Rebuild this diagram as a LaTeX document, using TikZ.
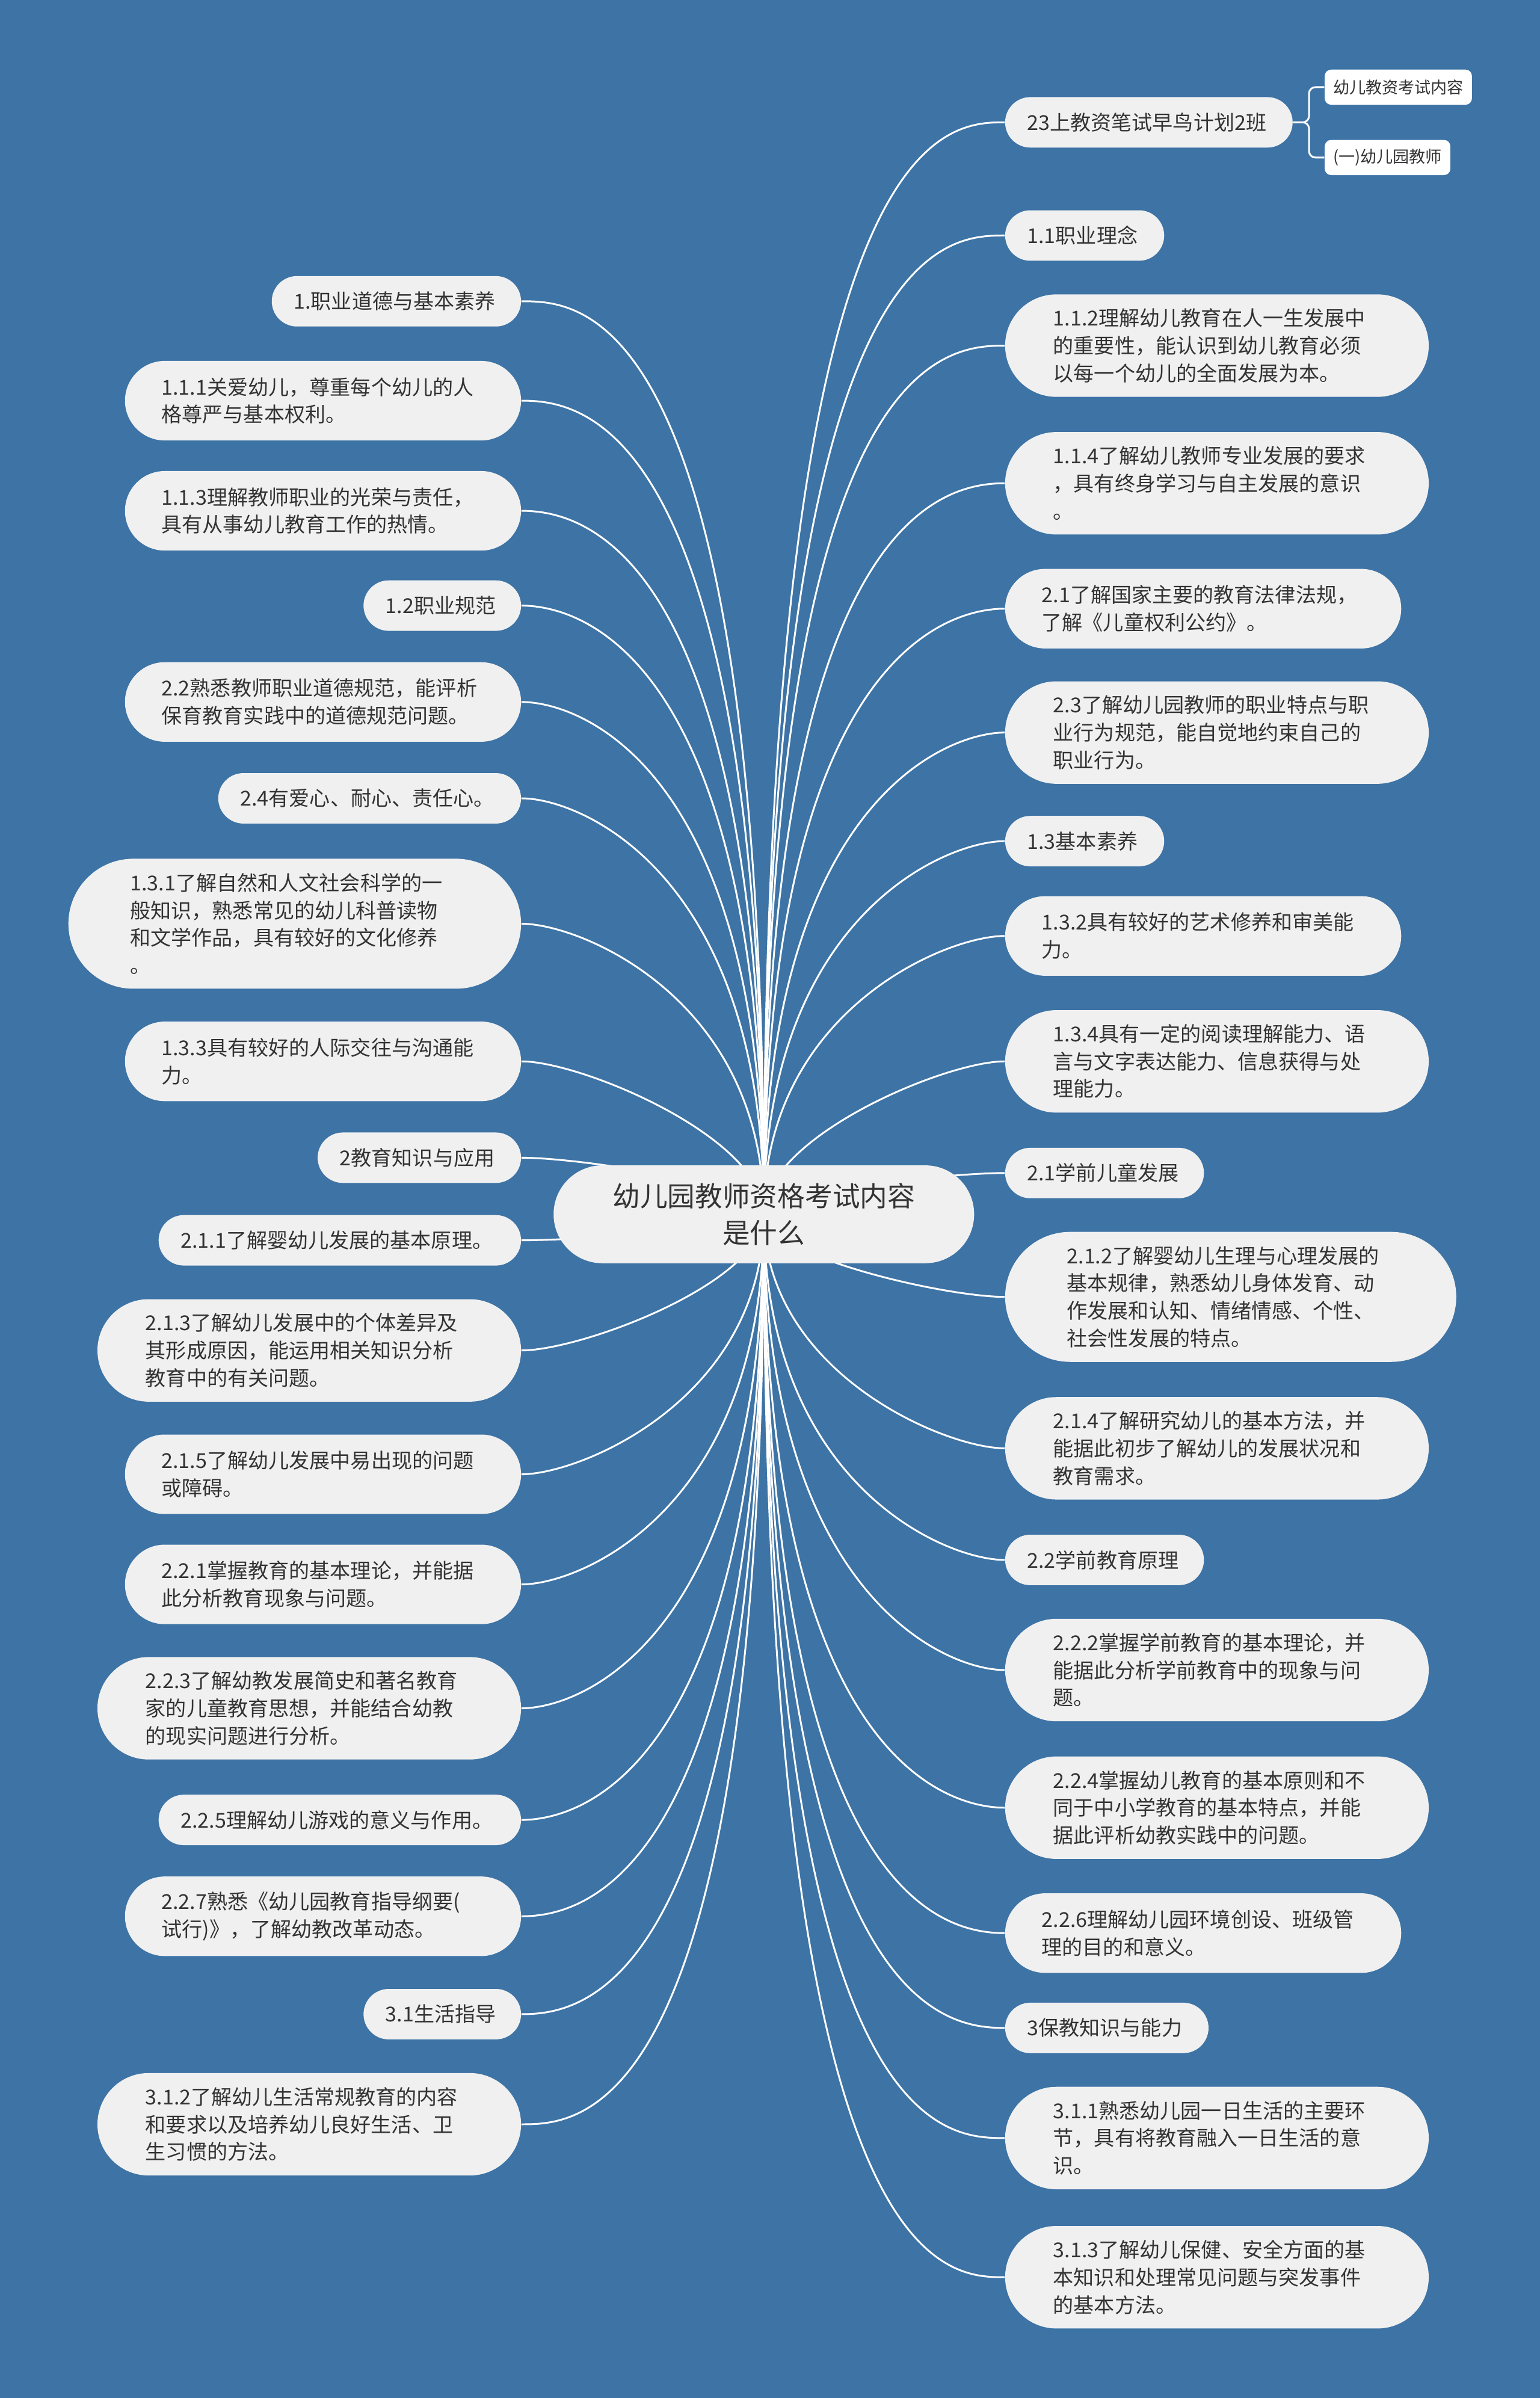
\documentclass[tikz,border=0pt]{standalone}
\usepackage{fontspec}
\newfontfamily\cjk{Noto Sans CJK SC}
\usetikzlibrary{calc}
\pgfdeclarelayer{bg}
\pgfsetlayers{bg,main}
\definecolor{bgblue}{HTML}{3D73A5}
\definecolor{nodefill}{HTML}{F0F0F0}
\definecolor{txt}{HTML}{333333}
\tikzset{
  pill/.style={fill=nodefill, text=txt, inner ysep=0pt, align=left, font=\cjk\fontsize{9.7}{13}\selectfont},
  rootbox/.style={fill=nodefill, text=txt, align=center, inner sep=0pt, font=\cjk\fontsize{13}{17.4}\selectfont},
  smallbox/.style={fill=white, text=txt, rounded corners=3pt, inner xsep=4pt, inner ysep=0pt, minimum height=16.6pt, anchor=west, font=\cjk\fontsize{7.7}{9}\selectfont},
  conn/.style={draw=white, line width=0.85pt},
}
% #1 name, #2 anchor, #3 x, #4 y, #5 width, #6 height, #7 text
\newcommand\mmnode[7]{%
  \pgfmathsetlengthmacro\mmtw{(#5-#6)*0.7233pt+3pt}%
  \pgfmathsetlengthmacro\mmh{#6*0.7233pt}%
  \pgfmathsetlengthmacro\mmr{#6*0.36165pt}%
  \pgfmathsetlengthmacro\mmx{#6*0.36165pt-1.5pt}%
  \node[pill, anchor=#2, text width=\mmtw, minimum height=\mmh, inner xsep=\mmx, rounded corners=\mmr] (#1) at (#3,#4) {#7};%
}
% #1 node name, #2 anchor
\newcommand\mmlink[2]{%
  \draw[conn] let \p1=(root.center), \p2=(#1.#2),
     \n1={abs(\y2-\y1)},
     \n2={min(0.5*\n1, 36.2, max(0, 36.2*(434-\n1)/217))},
     \n3={(\y1-\y2)/\n1},
     \n4={(\x1-\x2)/abs(\x1-\x2)} in
    (\p1) .. controls (\x1,{\y2+\n3*\n2}) and ({\x2+\n4*28.5},\y2) .. (\p2);%
}
\begin{document}
\begin{tikzpicture}[x=0.7233pt, y=-0.7233pt]
\useasboundingbox (0,0) rectangle (1007,1568);

\node[rootbox, minimum width=198.9pt, minimum height=46.3pt, rounded corners=23.1pt] (root) at (499.5,794) {幼儿园教师资格考试内容\\是什么};

% right side
\mmnode{T}{west}{657}{80}{188}{33}{23上教资笔试早鸟计划2班}
\mmnode{R1}{west}{657}{154}{104}{33}{1.1职业理念}
\mmnode{R2}{west}{657}{226}{277}{67}{1.1.2理解幼儿教育在人一生发展中\\的重要性，能认识到幼儿教育必须\\以每一个幼儿的全面发展为本。}
\mmnode{R3}{west}{657}{316}{277}{67}{1.1.4了解幼儿教师专业发展的要求\\，具有终身学习与自主发展的意识\\。}
\mmnode{R4}{west}{657}{398}{259}{52}{2.1了解国家主要的教育法律法规，\\了解《儿童权利公约》。}
\mmnode{R5}{west}{657}{479}{277}{67}{2.3了解幼儿园教师的职业特点与职\\业行为规范，能自觉地约束自己的\\职业行为。}
\mmnode{R6}{west}{657}{550}{104}{33}{1.3基本素养}
\mmnode{R7}{west}{657}{612}{259}{52}{1.3.2具有较好的艺术修养和审美能\\力。}
\mmnode{R8}{west}{657}{694}{277}{67}{1.3.4具有一定的阅读理解能力、语\\言与文字表达能力、信息获得与处\\理能力。}
\mmnode{R9}{west}{657}{767}{130}{33}{2.1学前儿童发展}
\mmnode{R10}{west}{657}{848}{295}{85}{2.1.2了解婴幼儿生理与心理发展的\\基本规律，熟悉幼儿身体发育、动\\作发展和认知、情绪情感、个性、\\社会性发展的特点。}
\mmnode{R11}{west}{657}{947}{277}{67}{2.1.4了解研究幼儿的基本方法，并\\能据此初步了解幼儿的发展状况和\\教育需求。}
\mmnode{R12}{west}{657}{1020}{130}{33}{2.2学前教育原理}
\mmnode{R13}{west}{657}{1092}{277}{67}{2.2.2掌握学前教育的基本理论，并\\能据此分析学前教育中的现象与问\\题。}
\mmnode{R14}{west}{657}{1182}{277}{67}{2.2.4掌握幼儿教育的基本原则和不\\同于中小学教育的基本特点，并能\\据此评析幼教实践中的问题。}
\mmnode{R15}{west}{657}{1264}{259}{52}{2.2.6理解幼儿园环境创设、班级管\\理的目的和意义。}
\mmnode{R16}{west}{657}{1326}{133}{33}{3保教知识与能力}
\mmnode{R17}{west}{657}{1398}{277}{67}{3.1.1熟悉幼儿园一日生活的主要环\\节，具有将教育融入一日生活的意\\识。}
\mmnode{R18}{west}{657}{1489}{277}{67}{3.1.3了解幼儿保健、安全方面的基\\本知识和处理常见问题与突发事件\\的基本方法。}

% left side
\mmnode{L1}{east}{341}{197}{163}{33}{1.职业道德与基本素养}
\mmnode{L2}{east}{341}{262}{259}{52}{1.1.1关爱幼儿，尊重每个幼儿的人\\格尊严与基本权利。}
\mmnode{L3}{east}{341}{334}{259}{52}{1.1.3理解教师职业的光荣与责任，\\具有从事幼儿教育工作的热情。}
\mmnode{L4}{east}{341}{396}{103}{33}{1.2职业规范}
\mmnode{L5}{east}{341}{459}{259}{52}{2.2熟悉教师职业道德规范，能评析\\保育教育实践中的道德规范问题。}
\mmnode{L6}{east}{341}{522}{198}{33}{2.4有爱心、耐心、责任心。}
\mmnode{L7}{east}{341}{604}{296}{85}{1.3.1了解自然和人文社会科学的一\\般知识，熟悉常见的幼儿科普读物\\和文学作品，具有较好的文化修养\\。}
\mmnode{L8}{east}{341}{694}{259}{52}{1.3.3具有较好的人际交往与沟通能\\力。}
\mmnode{L9}{east}{341}{757}{133}{33}{2教育知识与应用}
\mmnode{L10}{east}{341}{811}{237}{33}{2.1.1了解婴幼儿发展的基本原理。}
\mmnode{L11}{east}{341}{883}{277}{67}{2.1.3了解幼儿发展中的个体差异及\\其形成原因，能运用相关知识分析\\教育中的有关问题。}
\mmnode{L12}{east}{341}{964}{259}{52}{2.1.5了解幼儿发展中易出现的问题\\或障碍。}
\mmnode{L13}{east}{341}{1036}{259}{52}{2.2.1掌握教育的基本理论，并能据\\此分析教育现象与问题。}
\mmnode{L14}{east}{341}{1117}{277}{67}{2.2.3了解幼教发展简史和著名教育\\家的儿童教育思想，并能结合幼教\\的现实问题进行分析。}
\mmnode{L15}{east}{341}{1190}{237}{33}{2.2.5理解幼儿游戏的意义与作用。}
\mmnode{L16}{east}{341}{1253}{259}{52}{2.2.7熟悉《幼儿园教育指导纲要(\\试行)》，了解幼教改革动态。}
\mmnode{L17}{east}{341}{1317}{103}{33}{3.1生活指导}
\mmnode{L18}{east}{341}{1389}{277}{67}{3.1.2了解幼儿生活常规教育的内容\\和要求以及培养幼儿良好生活、卫\\生习惯的方法。}

% small nodes
\node[smallbox] (S1) at (866,57) {幼儿教资考试内容};
\node[smallbox] (S2) at (866,103) {(一)幼儿园教师};
\coordinate (J) at (856,80);

\begin{pgfonlayer}{bg}
\fill[bgblue] (0,0) rectangle (1007,1568);
\mmlink{T}{west}
\foreach \nm in {R1,R2,R3,R4,R5,R6,R7,R8,R9,R10,R11,R12,R13,R14,R15,R16,R17,R18}{\mmlink{\nm}{west}}
\foreach \nm in {L1,L2,L3,L4,L5,L6,L7,L8,L9,L10,L11,L12,L13,L14,L15,L16,L17,L18}{\mmlink{\nm}{east}}
\draw[conn, rounded corners=3pt] (T.east) -- (J) |- (S1.west);
\draw[conn, rounded corners=3pt] (T.east) -- (J) |- (S2.west);
\end{pgfonlayer}
\end{tikzpicture}
\end{document}
